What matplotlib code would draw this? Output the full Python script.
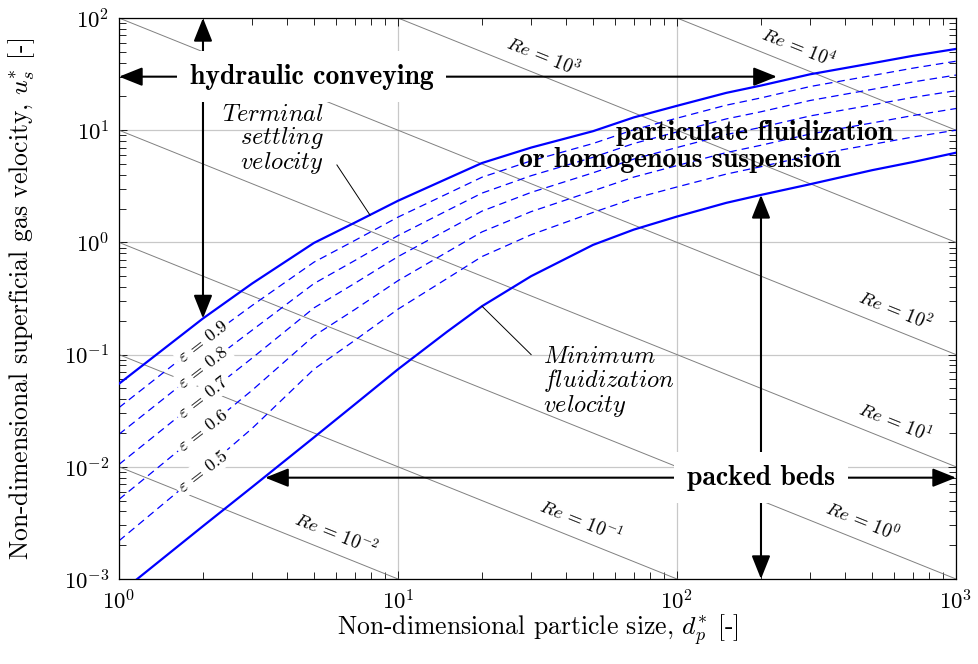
import numpy as np
import matplotlib.pyplot as plt
from matplotlib.ticker import FuncFormatter, LogLocator

plt.rcParams.update({
    'font.family': 'cmr10',
    'mathtext.fontset': 'cm',
    'mathtext.default': 'rm',
    'axes.unicode_minus': False,
    'axes.formatter.use_mathtext': True,
})

d_star = [1, 2, 3, 5, 7, 10, 15, 20, 30, 50, 70, 100, 150, 200, 300, 500, 700, 1000]

# terminal settling velocity
u_terminal = [0.055, 0.21, 0.43, 0.99, 1.5, 2.35, 3.7, 5.1, 7.0, 9.8,
              13.0, 16.5, 21.5, 25.0, 31.5, 39.5, 46.0, 53.0]
# minimum fluidization velocity
u_minfluid = [7.4e-4, 2.96e-3, 6.6e-3, 0.0183, 0.036, 0.074, 0.16, 0.27, 0.50, 0.95,
              1.30, 1.70, 2.25, 2.65, 3.3, 4.4, 5.2, 6.3]

# expanded bed, voidage eps
eps_values = [0.9, 0.8, 0.7, 0.6, 0.5]
u_eps_09 = [0.0337, 0.131, 0.274, 0.667, 1.04, 1.68, 2.71, 3.81, 5.33, 7.61,
            10.1, 12.8, 16.7, 19.4, 24.5, 30.7, 35.7, 41.2]
u_eps_08 = [0.0195, 0.0769, 0.165, 0.430, 0.689, 1.15, 1.92, 2.75, 3.93, 5.73,
            7.61, 9.65, 12.6, 14.6, 18.4, 23.1, 26.9, 31.0]
u_eps_07 = [0.0105, 0.042, 0.0931, 0.261, 0.432, 0.747, 1.29, 1.90, 2.79, 4.17,
            5.53, 7.01, 9.14, 10.6, 13.4, 16.8, 19.6, 22.5]
u_eps_06 = [0.00512, 0.021, 0.0481, 0.147, 0.252, 0.456, 0.820, 1.24, 1.88, 2.88,
            3.82, 4.84, 6.31, 7.34, 9.25, 11.6, 13.5, 15.6]
u_eps_05 = [0.00219, 0.00922, 0.022, 0.0742, 0.134, 0.254, 0.477, 0.748, 1.17, 1.85,
            2.46, 3.12, 4.06, 4.73, 5.95, 7.47, 8.69, 10.0]
u_eps = [u_eps_09, u_eps_08, u_eps_07, u_eps_06, u_eps_05]

# constant particle Reynolds number lines, u* = Re / d*
re_exponents = [-2, -1, 0, 1, 2, 3, 4]
re_label_d = [6.0, 45.3, 460, 604, 604, 33.1, 272]

blue = '#0000ff'

fig = plt.figure(figsize=(9.79, 6.64), dpi=100)
ax = fig.add_axes([119 / 979, 1 - 579 / 664, 837 / 979, 561 / 664])
ax.set_xscale('log')
ax.set_yscale('log')
ax.set_xlim(1, 1000)
ax.set_ylim(1e-3, 1e2)

ax.grid(True, which='major', color='#c8c8c8', lw=0.9)
ax.set_axisbelow(True)

d_line = np.array([1.0, 1000.0])
ang = -np.degrees(np.arctan(112.2 / 279))
for k, dl in zip(re_exponents, re_label_d):
    re = 10.0 ** k
    ax.plot(d_line, re / d_line, color='#808080', lw=0.7, zorder=1.5)
    ax.annotate(r'$\mathit{Re}$ = $10^{%d}$' % k, xy=(dl, re / dl), xytext=(0, 14),
                textcoords='offset points', ha='center', va='center',
                rotation=ang, rotation_mode='anchor', fontsize=13.5, zorder=3)

for eps, u in zip(eps_values, u_eps):
    ax.plot(d_star, u, color=blue, lw=0.9, ls=(0, (6, 4)), zorder=2)
    ax.text(2, u[1], r'$\varepsilon$ = %.1f' % eps, ha='center', va='center',
            rotation=37.5, rotation_mode='anchor', fontsize=13, zorder=5,
            bbox=dict(boxstyle='square,pad=0.15', fc='white', ec='none'))

ax.plot(d_star, u_terminal, color=blue, lw=1.6, zorder=3)
ax.plot(d_star, u_minfluid, color=blue, lw=1.6, zorder=3)

arrow = dict(arrowstyle='<|-|>,head_length=0.55,head_width=0.22', color='k', lw=1.5,
             shrinkA=0, shrinkB=0, mutation_scale=26)
box = dict(boxstyle='square,pad=0.45', fc='white', ec='none')

# hydraulic conveying
ax.annotate('', xy=(1, 30), xytext=(228, 30), arrowprops=arrow, zorder=4)
ax.annotate('', xy=(2, 100), xytext=(2, 0.21), arrowprops=arrow, zorder=4)
ax.text(4.9, 30, 'hydraulic conveying', family='cmb10', fontsize=20,
        ha='center', va='center', zorder=6, bbox=box)

# packed beds
ax.annotate('', xy=(3.34, 0.008), xytext=(1000, 0.008), arrowprops=arrow, zorder=4)
ax.annotate('', xy=(200, 2.65), xytext=(200, 1e-3), arrowprops=arrow, zorder=4)
ax.text(200, 0.008, 'packed beds', family='cmb10', fontsize=20,
        ha='center', va='center', zorder=6, bbox=box)

# particulate region
ax.text(189, 9.44, 'particulate fluidization', family='cmb10', fontsize=20,
        ha='center', va='center', zorder=6)
ax.text(102.5, 5.42, 'or homogenous suspension', family='cmb10', fontsize=20,
        ha='center', va='center', zorder=6)

# curve labels
ax.text(5.43, 8.2, '$\\mathit{Terminal}$\n$\\mathit{settling}$\n$\\mathit{velocity}$',
        ha='right', va='center', multialignment='right', fontsize=17.5, linespacing=0.95)
ax.plot([6.04, 7.94], [4.9, 1.75], color='k', lw=0.7, zorder=3)
ax.text(33.1, 0.057, '$\\mathit{Minimum}$\n$\\mathit{fluidization}$\n$\\mathit{velocity}$',
        ha='left', va='center', multialignment='left', fontsize=17.5, linespacing=0.95)
ax.plot([30, 20], [0.1, 0.27], color='k', lw=0.7, zorder=3)

ax.xaxis.set_major_locator(LogLocator(base=10, numticks=10))
ax.yaxis.set_major_locator(LogLocator(base=10, numticks=10))
ax.xaxis.set_minor_locator(LogLocator(base=10, subs=np.arange(2, 10), numticks=10))
ax.yaxis.set_minor_locator(LogLocator(base=10, subs=np.arange(2, 10), numticks=10))
fmt = FuncFormatter(lambda v, _: r'$10^{%d}$' % round(np.log10(v)))
ax.xaxis.set_major_formatter(fmt)
ax.yaxis.set_major_formatter(fmt)
ax.tick_params(which='both', direction='in', top=True, right=True, width=0.6, labelsize=16.5)
ax.tick_params(which='major', length=6, pad=7)
ax.tick_params(which='minor', length=5)
for sp in ax.spines.values():
    sp.set_linewidth(0.9)

ax.set_xlabel(r'Non-dimensional particle size, $\mathit{d}_{\mathit{p}}^{*}$ [-]', fontsize=18.5)
ax.set_ylabel(r'Non-dimensional superficial gas velocity, $\mathit{u}_{\mathit{s}}^{*}$ [-]', fontsize=18.5)
ax.xaxis.set_label_coords(0.5, -0.06)
ax.yaxis.set_label_coords(-0.098, 0.5)

fig.savefig('out.png', dpi=100)
